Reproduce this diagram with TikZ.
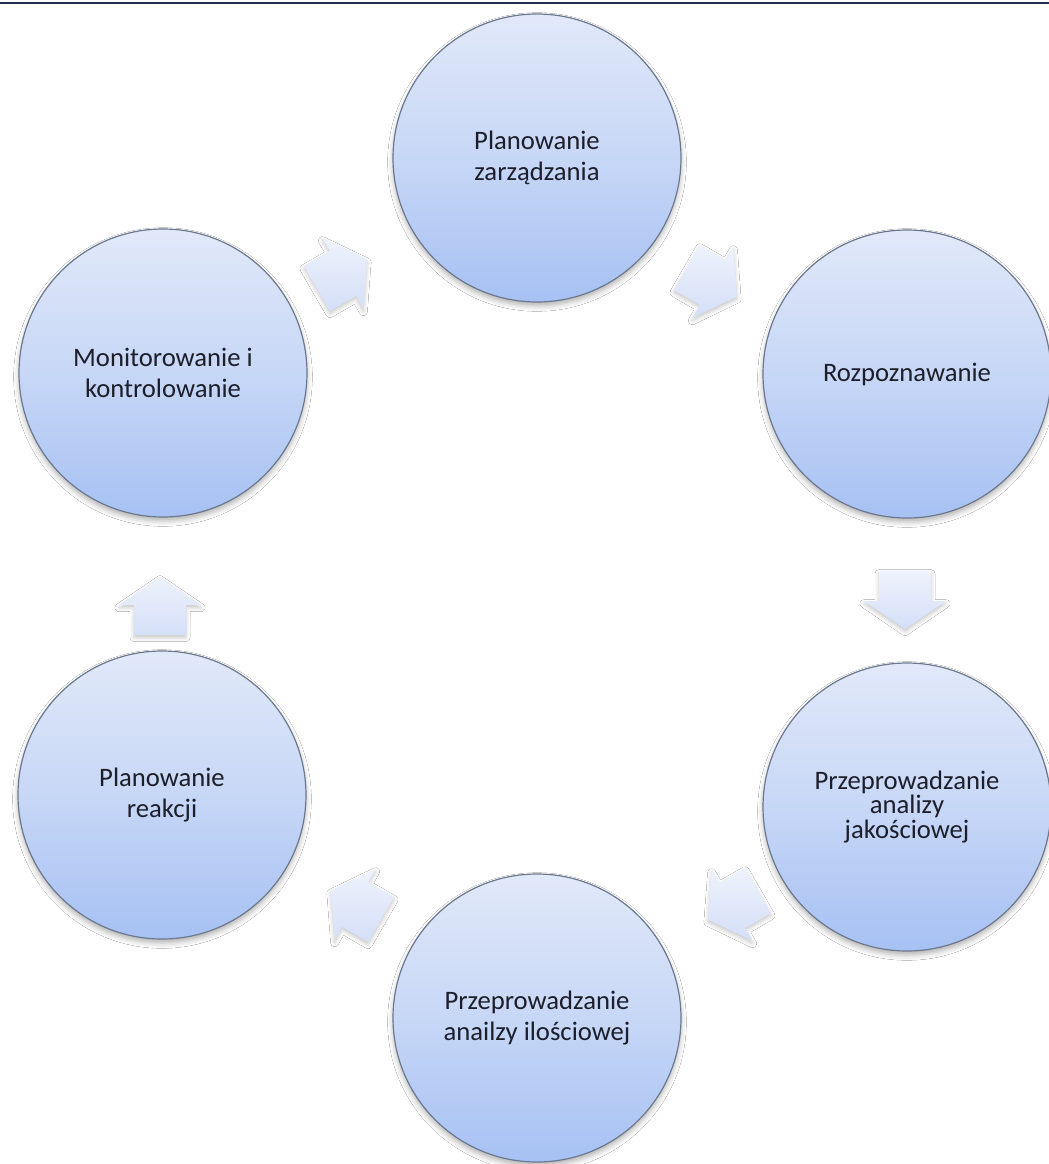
\documentclass[tikz,border=0pt]{standalone}
\usepackage{fontspec}
\setmainfont{Carlito}
\usetikzlibrary{shadows.blur}
\definecolor{ctop}{RGB}{225,233,249}
\definecolor{cmid}{RGB}{199,215,246}
\definecolor{cbot}{RGB}{166,193,243}
\definecolor{cedge}{RGB}{108,120,142}
\definecolor{atop}{RGB}{238,242,252}
\definecolor{abot}{RGB}{212,223,247}
\definecolor{txt}{RGB}{28,30,42}
\definecolor{topline}{RGB}{32,46,80}
\newcommand\cyclearrow[3]{%
  \begin{scope}[shift={(#2)}, rotate=#3]
    \coordinate (#1) at (0,0);
    \path[blockarrow] (-29,-26) -- (1,-26) -- (1,-41) -- (29,0) -- (1,41) -- (1,26) -- (-29,26) -- cycle;
  \end{scope}}
\begin{document}
\begin{tikzpicture}[x=0.75pt,y=-0.75pt,
  stage/.style={circle, draw=cedge, line width=0.9pt, minimum size=216pt, inner sep=0pt,
    top color=ctop, bottom color=cbot, middle color=cmid, align=center,
    font=\fontsize{20}{23}\selectfont, text=txt,
    blur shadow={shadow xshift=0pt, shadow yshift=-3pt, shadow blur radius=4pt, shadow opacity=30}},
  blockarrow/.style={top color=atop, bottom color=abot, draw=none,
    blur shadow={shadow xshift=0pt, shadow yshift=-2pt, shadow blur radius=3pt, shadow opacity=22}}]
\useasboundingbox (0,0) rectangle (1049,1164);
\fill[white] (0,0) rectangle (1049,1164);
\draw[topline, line width=1.6pt] (0,3) -- (1049,3);

\node[stage] (c1) at (537,158) {Planowanie\\zarządzania};
\node[stage] (c2) at (907,374) {Rozpoznawanie};
\node[stage, font=\fontsize{20}{16.5}\selectfont] (c3) at (907,807) {Przeprowadzanie\\analizy\\jakościowej};
\node[stage] (c4) at (537,1018) {Przeprowadzanie\\anailzy ilościowej};
\node[stage] (c5) at (162,795) {Planowanie\\reakcji};
\node[stage] (c6) at (163,373) {Monitorowanie i\\kontrolowanie};

\cyclearrow{a1}{712,282}{-30}
\cyclearrow{a2}{905,600}{-90}
\cyclearrow{a3}{733,905}{-150}
\cyclearrow{a4}{356,905}{150}
\cyclearrow{a5}{160,606}{90}
\cyclearrow{a6}{342,274}{30}
\end{tikzpicture}
\end{document}
